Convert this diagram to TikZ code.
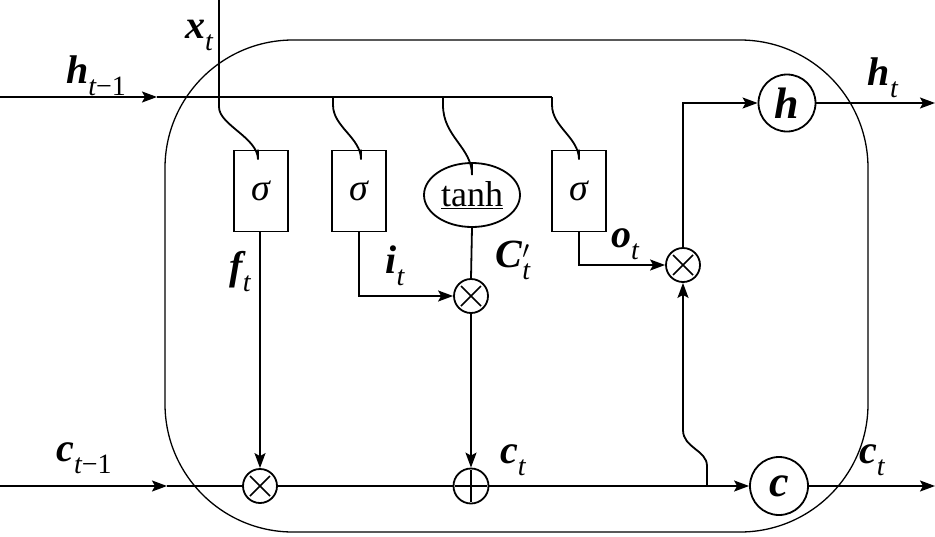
\documentclass[tikz,border=0pt]{standalone}
\usepackage{fontspec}
\setmainfont{Liberation Serif}
\usetikzlibrary{arrows.meta,shapes.geometric}
\newcommand{\lsub}[1]{\raisebox{-0.3em}{\fontsize{28}{28}\selectfont\mdseries #1}}
\newcommand{\bvar}[1]{{\bfseries\itshape #1}}
\begin{document}
\begin{tikzpicture}[x=1pt,y=-1pt,line width=1.8pt,
  arr/.style={-{Stealth[length=15pt,width=11pt,inset=3pt]}},
  gate/.style={draw,minimum width=54pt,minimum height=81pt,inner sep=0pt,font=\fontsize{38}{40}\selectfont\itshape},
  mult/.style={draw,circle,minimum size=34pt,inner sep=0pt,
    path picture={\draw[line width=1.5pt] ([shift={(-10pt,-10pt)}]path picture bounding box.center)--++(20pt,20pt)
      ([shift={(-10pt,10pt)}]path picture bounding box.center)--++(20pt,-20pt);}},
  plus/.style={draw,circle,minimum size=35pt,inner sep=0pt,
    path picture={\draw[line width=1.5pt] ([shift={(-16pt,0pt)}]path picture bounding box.center)--++(32pt,0pt)
      ([shift={(0pt,-16pt)}]path picture bounding box.center)--++(0pt,32pt);}},
  state/.style={draw,circle,inner sep=0pt,font=\fontsize{44}{46}\selectfont\bfseries\itshape},
  lbl/.style={font=\fontsize{40}{42}\selectfont,inner sep=0pt}]
\useasboundingbox (0,0) rectangle (935,536);
% cell border
\draw[line width=1.3pt,rounded corners=128pt] (165,40) rectangle (868,532);
% gates
\node[gate] (s1) at (261,191) {σ};
\node[gate] (s2) at (359,191) {σ};
\node[draw,ellipse,minimum width=96pt,minimum height=64pt,inner sep=0pt,font=\fontsize{36}{38}\selectfont] (tanh) at (472,195) {\underline{tanh}};
\node[gate] (s4) at (579,191) {σ};
% operators
\node[mult] (m1) at (471,296) {};
\node[mult] (m3) at (683,265) {};
\node[mult] (m2) at (260,486) {};
\node[plus] (p1) at (471,486) {};
\node[state,minimum size=57pt] (h) at (787,103) {h};
\node[state,minimum size=58pt] (c) at (779,486) {c};
% free ends
\coordinate (hin) at (0,97);
\coordinate (ha) at (157,97);
\coordinate (hend) at (552,97);
\coordinate (xin) at (219,0);
\coordinate (xb) at (219,107);
\coordinate (b2) at (333,97);
\coordinate (b3) at (443,97);
\coordinate (b4) at (552,97);
\coordinate (hout) at (935,103);
\coordinate (cin) at (0,486);
\coordinate (ca) at (167,486);
\coordinate (cout) at (935,486);
\coordinate (br) at (707,486);
% h_{t-1} line
\draw[arr] (hin) -- (ha);
\draw (ha) -- (hend);
% x_t line and branches to gates
\draw (xin) -- (xb) .. controls +(0,18) and +(0,-22) .. ([yshift=-10pt]s1.north -| 258,0) -- (s1.north -| 258,0);
\draw (b2) -- +(0,8) .. controls +(0,22) and +(0,-22) .. ([yshift=-10pt]s2.north -| 361,0) -- (s2.north -| 361,0);
\draw (b3) -- +(0,8) .. controls +(0,32) and +(0,-28) .. ([yshift=-13pt]tanh.north) -- (tanh.north);
\draw (b4) -- +(0,8) .. controls +(0,22) and +(0,-22) .. ([yshift=-10pt]s4.north) -- (s4.north);
% gate outputs
\draw[arr] (s1.south -| m2.north) -- (m2.north);
\draw[arr] (s2.south) |- (m1.west);
\draw (tanh.south) -- (m1.north);
\draw[arr] (m1.south) -- (p1.north);
\draw[arr] (s4.south) |- (m3.west);
\draw[arr] (m3.north) |- (h.west);
\draw[arr] (h.east) -- (hout);
% cell state line
\draw[arr] (cin) -- (ca);
\draw (ca) -- (m2.west);
\draw (m2.east) -- (p1.west);
\draw[arr] (p1.east) -- (c.west);
\draw[arr] (c.east) -- (cout);
\draw[arr] (br) -- +(0,-20) .. controls +(0,-16) and +(0,18) .. (683,430) -- (m3.south);
% labels
\node[lbl] (lx) at (199,35) {\bvar{x}\lsub{\itshape t}};
\node[lbl] (lh0) at (96,76) {\bvar{h}\lsub{\itshape t\upshape −1}};
\node[lbl] (lf) at (240,272) {\bvar{f}\lsub{\itshape t}};
\node[lbl] (li) at (395,266) {\bvar{i}\lsub{\itshape t}};
\node[lbl] (lC) at (513,260) {\bvar{C}\rlap{$'$}\lsub{\itshape t}};
\node[lbl] (lo) at (625,244) {\bvar{o}\lsub{\itshape t}};
\node[lbl] (lh) at (883,78) {\bvar{h}\lsub{\itshape t}};
\node[lbl] (lc0) at (84,458) {\bvar{c}\lsub{\itshape t\upshape −1}};
\node[lbl] (lc1) at (513,460) {\bvar{c}\lsub{\itshape t}};
\node[lbl] (lc2) at (872,460) {\bvar{c}\lsub{\itshape t}};
\end{tikzpicture}
\end{document}
